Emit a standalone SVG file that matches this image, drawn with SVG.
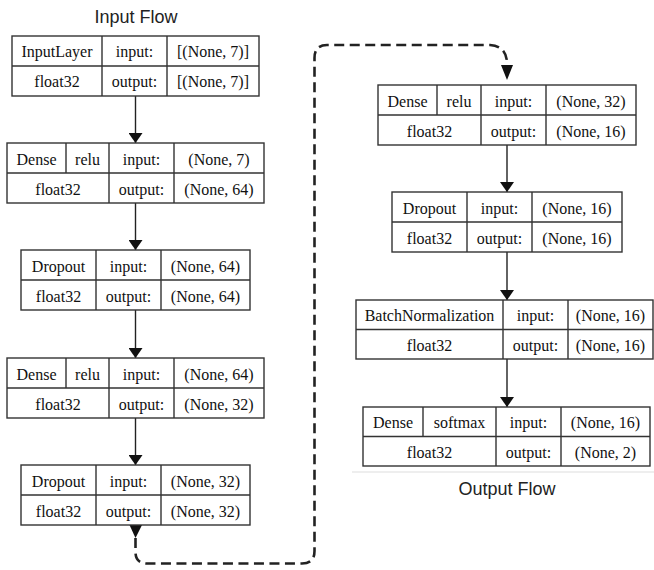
<svg xmlns="http://www.w3.org/2000/svg" width="654" height="570" viewBox="0 0 654 570">
<style>
.box{fill:#fff;stroke:#333;stroke-width:1.4}
.ln{stroke:#333;stroke-width:1.4;fill:none}
.t{font-family:"Liberation Serif","Times New Roman",serif;font-size:16px;fill:#111;text-anchor:middle}
.title{font-family:"Liberation Sans",Arial,sans-serif;font-size:18px;fill:#222;text-anchor:middle}
.edge{stroke:#222;stroke-width:1.4;fill:none}
.dash{stroke:#222;stroke-width:2.6;fill:none;stroke-dasharray:10 5.5;stroke-linecap:butt}
</style>
<defs>
<marker id="ah" viewBox="0 0 10 14" refX="10" refY="7" markerWidth="10" markerHeight="14" markerUnits="userSpaceOnUse" orient="auto">
<path d="M0,0 L14,7 L0,14 z" transform="scale(0.72,1)" fill="#111"/>
</marker>
</defs>
<rect width="654" height="570" fill="#fff"/>
<text class="title" x="136" y="23">Input Flow</text>
<text class="title" x="507" y="495">Output Flow</text>
<line x1="352" y1="472" x2="654" y2="472" stroke="#ddd" stroke-width="1.2"/>

<g id="connectors">
<line class="edge" x1="135.5" y1="96" x2="135.5" y2="143" marker-end="url(#ah)"/>
<line class="edge" x1="135.5" y1="203" x2="135.5" y2="250" marker-end="url(#ah)"/>
<line class="edge" x1="135.5" y1="310" x2="135.5" y2="358" marker-end="url(#ah)"/>
<line class="edge" x1="135.5" y1="418" x2="135.5" y2="465" marker-end="url(#ah)"/>
<line class="edge" x1="507" y1="145" x2="507" y2="192" marker-end="url(#ah)"/>
<line class="edge" x1="507" y1="252" x2="507" y2="300" marker-end="url(#ah)"/>
<line class="edge" x1="507" y1="359" x2="507" y2="407" marker-end="url(#ah)"/>
<polygon points="129.5,525 142,525 135.5,538" fill="#111"/>
<path class="dash" d="M135.5,538 L135.5,552 Q135.5,563.5 147,563.5 L302,563.5 Q314.5,563.5 314.5,551 L314.5,58 Q314.5,45 327,45 L490,45 Q506,46 507,62"/>
<polygon points="501,65 513,65 507,80" fill="#111"/>
</g>

<g id="input_layer">
<rect class="box" x="12" y="36" width="247" height="60"/>
<path class="ln" d="M12,66 H259 M102,36 V96 M167,36 V96"/>
<text class="t" x="57" y="57">InputLayer</text>
<text class="t" x="134.5" y="57">input:</text>
<text class="t" x="213" y="57">[(None, 7)]</text>
<text class="t" x="57" y="87">float32</text>
<text class="t" x="134.5" y="87">output:</text>
<text class="t" x="213" y="87">[(None, 7)]</text>
</g>

<g id="dense_1">
<rect class="box" x="7" y="143" width="257" height="60"/>
<path class="ln" d="M7,173 H264 M66,143 V173 M109,143 V203 M174,143 V203"/>
<text class="t" x="36.5" y="164.5">Dense</text>
<text class="t" x="87.5" y="164.5">relu</text>
<text class="t" x="141.5" y="164.5">input:</text>
<text class="t" x="219" y="164.5">(None, 7)</text>
<text class="t" x="58" y="194.5">float32</text>
<text class="t" x="141.5" y="194.5">output:</text>
<text class="t" x="219" y="194.5">(None, 64)</text>
</g>

<g id="dropout_1">
<rect class="box" x="21" y="250" width="229" height="60"/>
<path class="ln" d="M21,280 H250 M96,250 V310 M161,250 V310"/>
<text class="t" x="58.5" y="271.5">Dropout</text>
<text class="t" x="128.5" y="271.5">input:</text>
<text class="t" x="205.5" y="271.5">(None, 64)</text>
<text class="t" x="58.5" y="301.5">float32</text>
<text class="t" x="128.5" y="301.5">output:</text>
<text class="t" x="205.5" y="301.5">(None, 64)</text>
</g>

<g id="dense_2">
<rect class="box" x="7" y="358" width="257" height="60"/>
<path class="ln" d="M7,388 H264 M66,358 V388 M109,358 V418 M174,358 V418"/>
<text class="t" x="36.5" y="379.5">Dense</text>
<text class="t" x="87.5" y="379.5">relu</text>
<text class="t" x="141.5" y="379.5">input:</text>
<text class="t" x="219" y="379.5">(None, 64)</text>
<text class="t" x="58" y="409.5">float32</text>
<text class="t" x="141.5" y="409.5">output:</text>
<text class="t" x="219" y="409.5">(None, 32)</text>
</g>

<g id="dropout_2">
<rect class="box" x="21" y="465" width="229" height="60"/>
<path class="ln" d="M21,495 H250 M96,465 V525 M161,465 V525"/>
<text class="t" x="58.5" y="486.5">Dropout</text>
<text class="t" x="128.5" y="486.5">input:</text>
<text class="t" x="205.5" y="486.5">(None, 32)</text>
<text class="t" x="58.5" y="516.5">float32</text>
<text class="t" x="128.5" y="516.5">output:</text>
<text class="t" x="205.5" y="516.5">(None, 32)</text>
</g>

<g id="dense_3">
<rect class="box" x="378" y="85" width="258" height="60"/>
<path class="ln" d="M378,115 H636 M437,85 V115 M481,85 V145 M546,85 V145"/>
<text class="t" x="407.5" y="106.5">Dense</text>
<text class="t" x="459" y="106.5">relu</text>
<text class="t" x="513.5" y="106.5">input:</text>
<text class="t" x="591" y="106.5">(None, 32)</text>
<text class="t" x="429.5" y="136.5">float32</text>
<text class="t" x="513.5" y="136.5">output:</text>
<text class="t" x="591" y="136.5">(None, 16)</text>
</g>

<g id="dropout_3">
<rect class="box" x="392" y="192" width="230" height="60"/>
<path class="ln" d="M392,222 H622 M467,192 V252 M532,192 V252"/>
<text class="t" x="429.5" y="213.5">Dropout</text>
<text class="t" x="499.5" y="213.5">input:</text>
<text class="t" x="577" y="213.5">(None, 16)</text>
<text class="t" x="429.5" y="243.5">float32</text>
<text class="t" x="499.5" y="243.5">output:</text>
<text class="t" x="577" y="243.5">(None, 16)</text>
</g>

<g id="batch_normalization">
<rect class="box" x="356" y="300" width="297" height="59"/>
<path class="ln" d="M356,329.5 H653 M503,300 V359 M568,300 V359"/>
<text class="t" x="429.5" y="321">BatchNormalization</text>
<text class="t" x="535.5" y="321">input:</text>
<text class="t" x="610.5" y="321">(None, 16)</text>
<text class="t" x="429.5" y="350.5">float32</text>
<text class="t" x="535.5" y="350.5">output:</text>
<text class="t" x="610.5" y="350.5">(None, 16)</text>
</g>

<g id="dense_4">
<rect class="box" x="363" y="407" width="287" height="59"/>
<path class="ln" d="M363,436.5 H650 M423,407 V436.5 M496,407 V466 M561,407 V466"/>
<text class="t" x="393" y="428">Dense</text>
<text class="t" x="459.5" y="428">softmax</text>
<text class="t" x="528.5" y="428">input:</text>
<text class="t" x="605.5" y="428">(None, 16)</text>
<text class="t" x="429.5" y="457.5">float32</text>
<text class="t" x="528.5" y="457.5">output:</text>
<text class="t" x="605.5" y="457.5">(None, 2)</text>
</g>
</svg>
